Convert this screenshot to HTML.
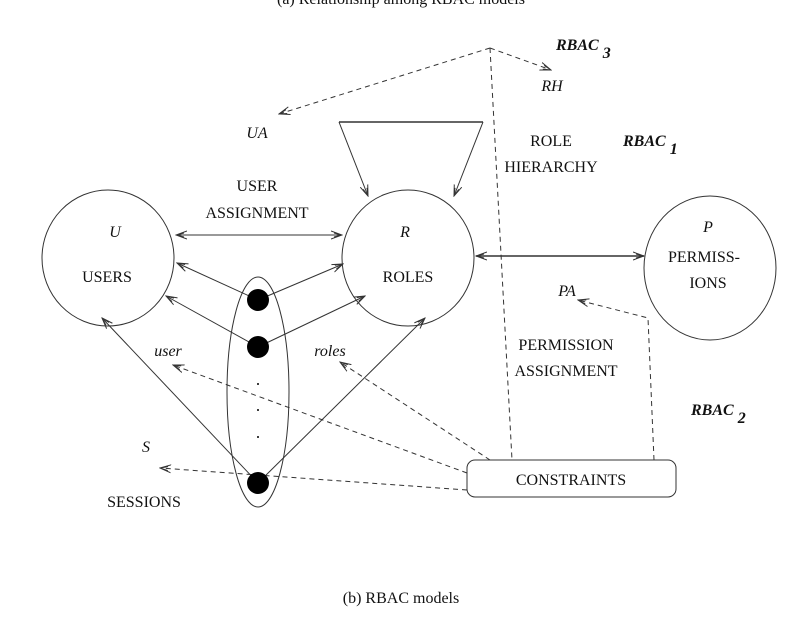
<!DOCTYPE html>
<html><head><style>
html,body{margin:0;padding:0;background:#fff;}
svg{display:block;}
text{font-family:"Liberation Serif",serif;fill:#111;}
</style></head><body>
<svg width="803" height="620" viewBox="0 0 803 620" xmlns="http://www.w3.org/2000/svg">
<defs>
<marker id="a" markerWidth="12" markerHeight="10" refX="11" refY="5" orient="auto" markerUnits="userSpaceOnUse">
<path d="M0,1 L11,5 L0,9 M3,3 L11,5 L3,7" fill="none" stroke="#333" stroke-width="1"/>
</marker>
<marker id="b" markerWidth="12" markerHeight="10" refX="1" refY="5" orient="auto" markerUnits="userSpaceOnUse">
<path d="M12,1 L1,5 L12,9 M9,3 L1,5 L9,7" fill="none" stroke="#333" stroke-width="1"/>
</marker>
</defs>
<text x="401" y="4" font-size="16" text-anchor="middle">(a) Relationship among RBAC models</text>
<g fill="none" stroke="#333" stroke-width="1">
<ellipse cx="108" cy="258" rx="66" ry="68"/>
<ellipse cx="408" cy="258" rx="66" ry="68"/>
<ellipse cx="710" cy="268" rx="66" ry="72"/>
<ellipse cx="258" cy="392" rx="31" ry="115"/>
<rect x="467" y="460" width="209" height="37" rx="8"/>
<line x1="339" y1="122" x2="483" y2="122" stroke-width="1.5"/>
<line x1="339" y1="122" x2="368" y2="196" marker-end="url(#a)"/>
<line x1="483" y1="122" x2="454" y2="196" marker-end="url(#a)"/>
<line x1="176" y1="235" x2="342" y2="235" marker-start="url(#b)" marker-end="url(#a)"/>
<line x1="476" y1="256" x2="644" y2="256" stroke-width="1.5" marker-start="url(#b)" marker-end="url(#a)"/>
<line x1="258" y1="300" x2="177" y2="263" marker-end="url(#a)"/>
<line x1="258" y1="300" x2="343" y2="264" marker-end="url(#a)"/>
<line x1="258" y1="347" x2="166" y2="296" marker-end="url(#a)"/>
<line x1="258" y1="347" x2="365" y2="296" marker-end="url(#a)"/>
<line x1="258" y1="483" x2="102" y2="318" marker-end="url(#a)"/>
<line x1="258" y1="483" x2="425" y2="318" marker-end="url(#a)"/>
</g>
<g fill="none" stroke="#333" stroke-width="1" stroke-dasharray="5,4">
<line x1="490" y1="48" x2="279" y2="114" marker-end="url(#a)"/>
<line x1="490" y1="48" x2="551" y2="70" marker-end="url(#a)"/>
<line x1="490" y1="48" x2="512" y2="460"/>
<polyline points="654,460 648,318 578,300" marker-end="url(#a)"/>
<line x1="467" y1="490" x2="160" y2="468" marker-end="url(#a)"/>
<line x1="467" y1="473" x2="173" y2="365" marker-end="url(#a)"/>
<line x1="490" y1="460" x2="340" y2="362" marker-end="url(#a)"/>
</g>
<g fill="#000">
<circle cx="258" cy="300" r="11"/>
<circle cx="258" cy="347" r="11"/>
<circle cx="258" cy="483" r="11"/>
<circle cx="258" cy="384" r="1"/>
<circle cx="258" cy="410" r="1"/>
<circle cx="258" cy="437" r="1"/>
</g>
<g font-size="16">
<text x="115" y="237" font-style="italic" text-anchor="middle">U</text>
<text x="107" y="282" text-anchor="middle">USERS</text>
<text x="405" y="237" font-style="italic" text-anchor="middle">R</text>
<text x="408" y="282" text-anchor="middle">ROLES</text>
<text x="708" y="232" font-style="italic" text-anchor="middle">P</text>
<text x="704" y="262" text-anchor="middle">PERMISS-</text>
<text x="708" y="288" text-anchor="middle">IONS</text>
<text x="257" y="191" text-anchor="middle">USER</text>
<text x="257" y="218" text-anchor="middle">ASSIGNMENT</text>
<text x="257" y="138" font-style="italic" text-anchor="middle">UA</text>
<text x="552" y="91" font-style="italic" text-anchor="middle">RH</text>
<text x="551" y="146" text-anchor="middle">ROLE</text>
<text x="551" y="172" text-anchor="middle">HIERARCHY</text>
<text x="567" y="296" font-style="italic" text-anchor="middle">PA</text>
<text x="566" y="350" text-anchor="middle">PERMISSION</text>
<text x="566" y="376" text-anchor="middle">ASSIGNMENT</text>
<text x="168" y="356" font-style="italic" text-anchor="middle">user</text>
<text x="330" y="356" font-style="italic" text-anchor="middle">roles</text>
<text x="146" y="452" font-style="italic" text-anchor="middle">S</text>
<text x="144" y="507" text-anchor="middle">SESSIONS</text>
<text x="571" y="485" text-anchor="middle">CONSTRAINTS</text>
<text x="401" y="603" text-anchor="middle">(b) RBAC models</text>
<text x="556" y="50" font-style="italic" font-weight="bold">RBAC<tspan dx="4" dy="8">3</tspan></text>
<text x="623" y="146" font-style="italic" font-weight="bold">RBAC<tspan dx="4" dy="8">1</tspan></text>
<text x="691" y="415" font-style="italic" font-weight="bold">RBAC<tspan dx="4" dy="8">2</tspan></text>
</g>
</svg>
</body></html>
